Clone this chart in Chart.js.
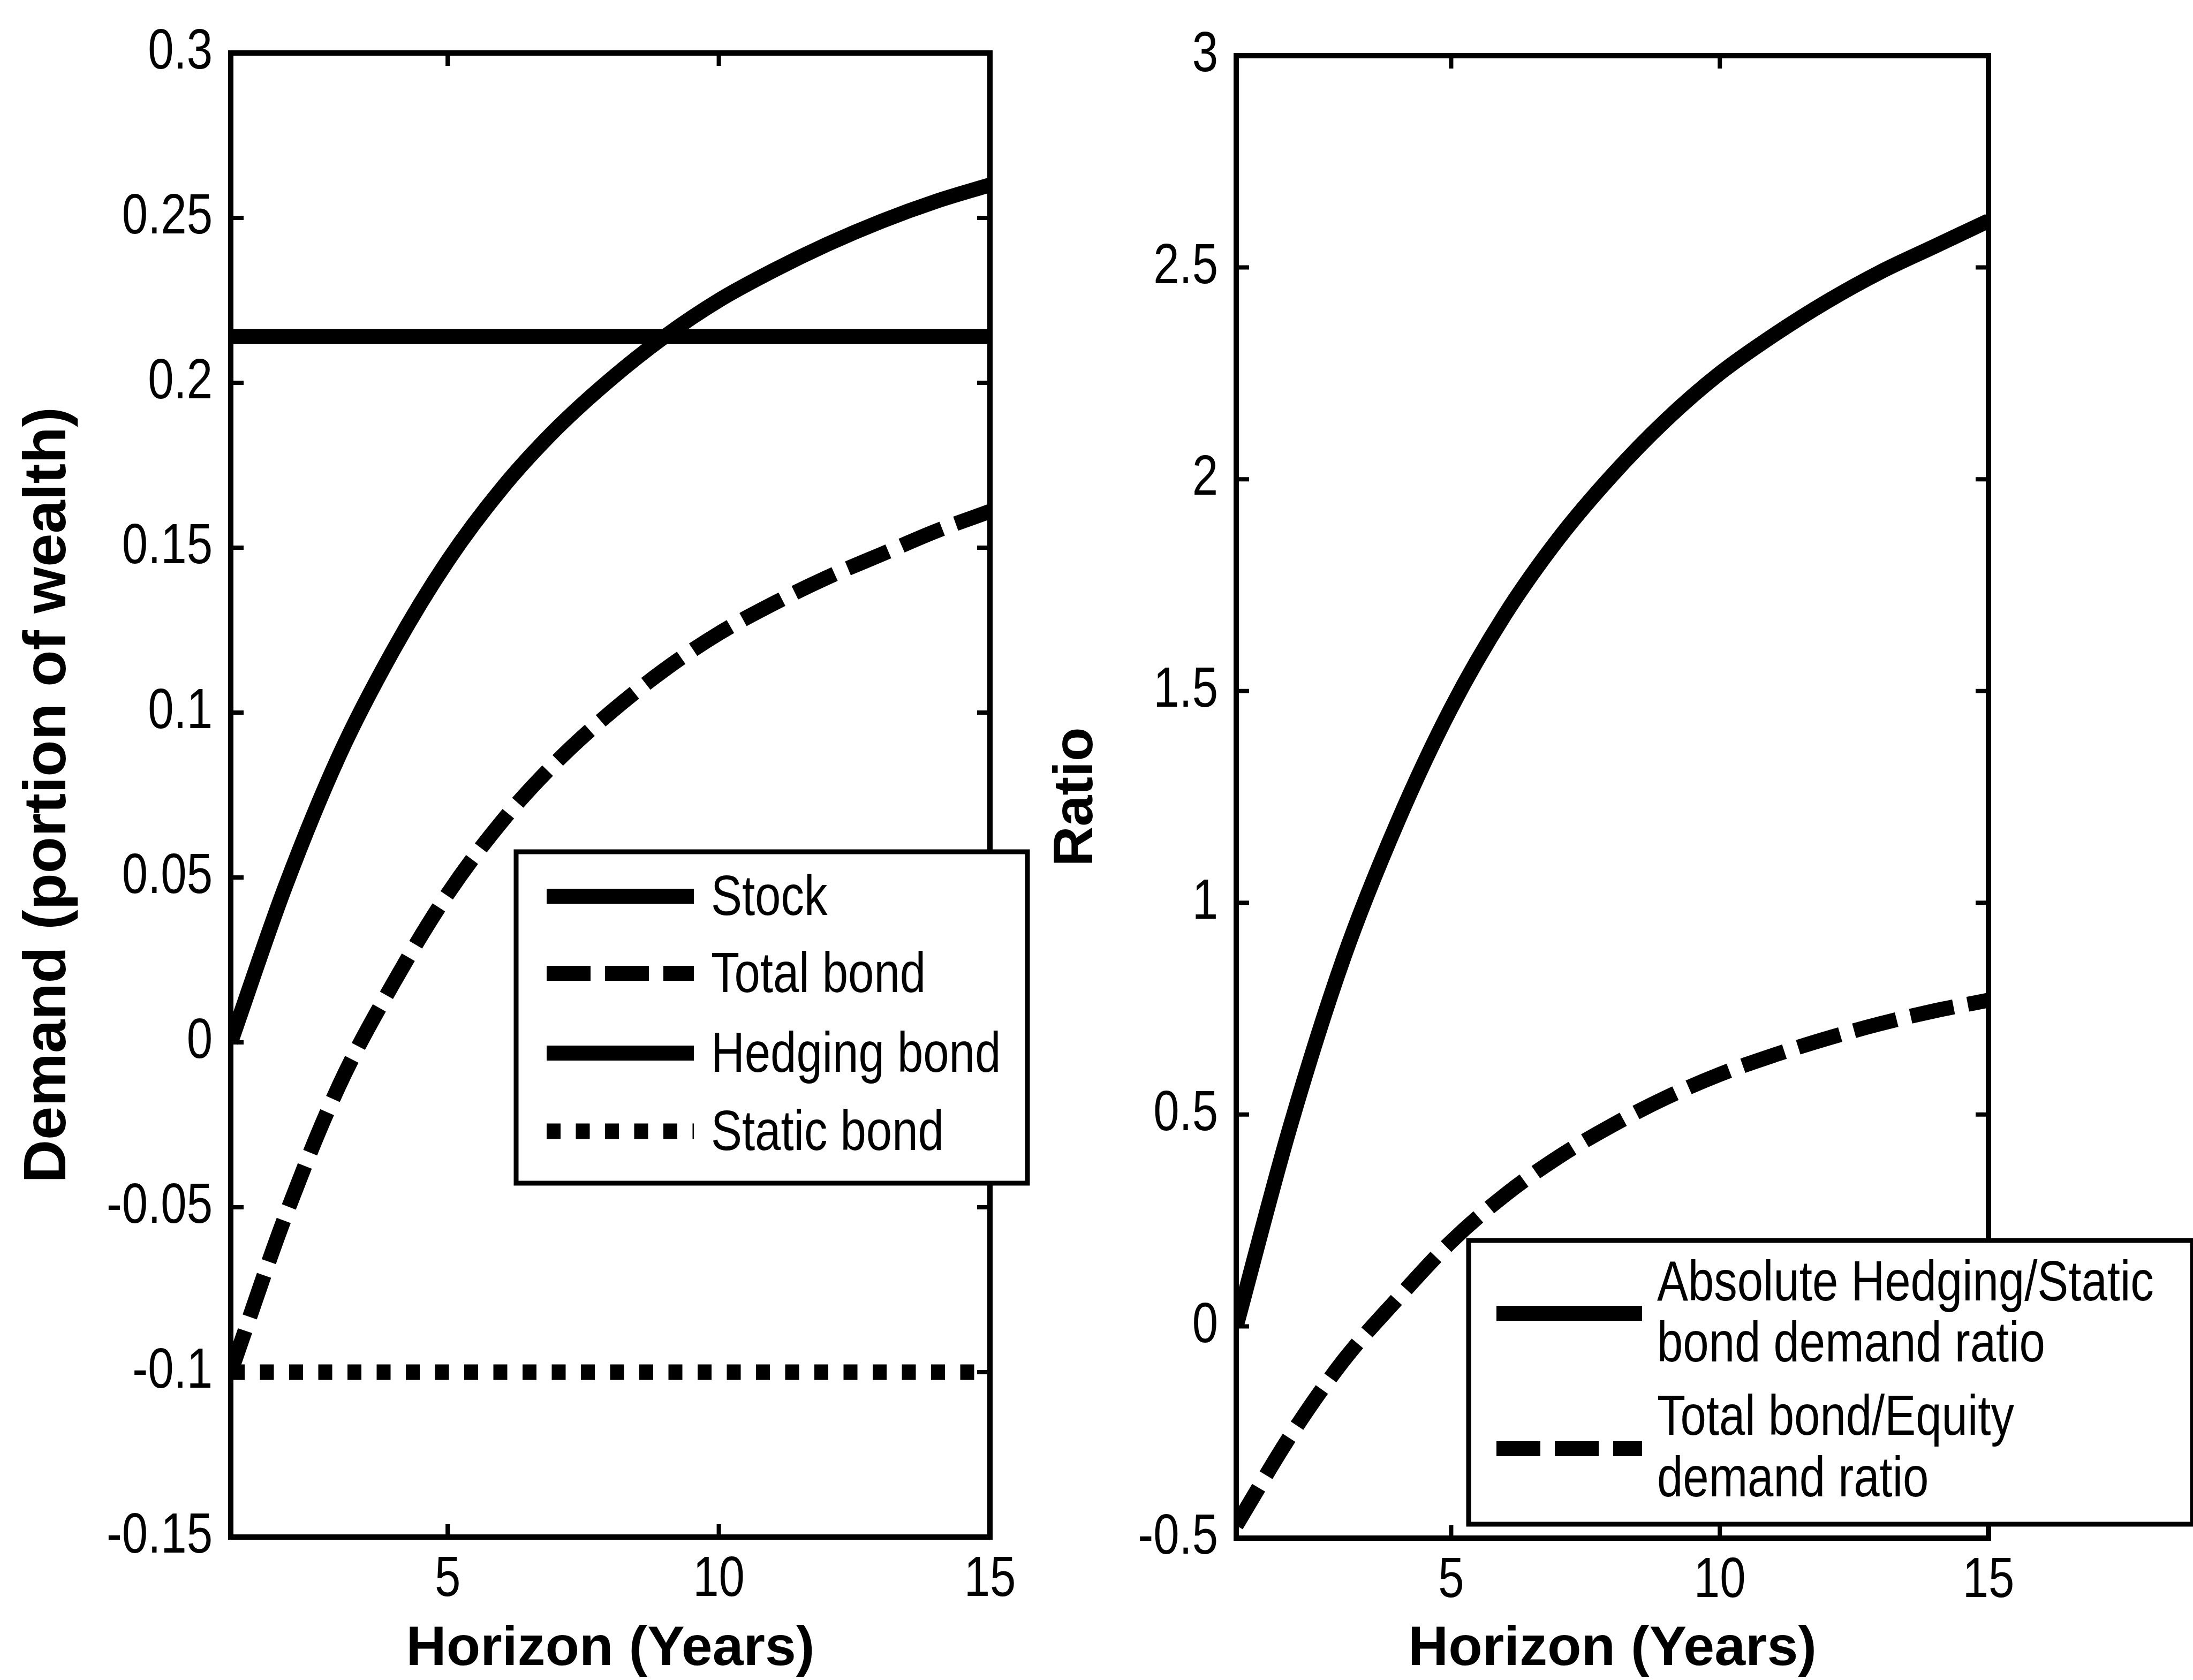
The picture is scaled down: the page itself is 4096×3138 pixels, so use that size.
<!DOCTYPE html>
<html>
<head>
<meta charset="utf-8">
<script src="https://cdn.jsdelivr.net/npm/chart.js@4/dist/chart.umd.min.js"></script>
<style>
  html, body { margin: 0; padding: 0; background: #fff; }
  #wrap { position: relative; width: 4096px; height: 3138px; overflow: hidden; background: #fff; }
  canvas { position: absolute; left: 0; top: 0; }
</style>
</head>
<body>
<div id="wrap">
  <canvas id="leftChart" width="4096" height="3138"></canvas>
  <canvas id="rightChart" width="4096" height="3138"></canvas>
</div>
<script>
// horizon in years
const horizon = [1, 2, 3, 4, 5, 6, 7, 8, 9, 10, 11, 12, 13, 14, 15];

// left panel: demand as portion of wealth
const stockDemand   = [0.214, 0.214, 0.214, 0.214, 0.214, 0.214, 0.214, 0.214, 0.214, 0.214, 0.214, 0.214, 0.214, 0.214, 0.214];
const totalBond     = [-0.1, -0.053, -0.013, 0.018, 0.045, 0.067, 0.085, 0.1, 0.113, 0.124, 0.133, 0.141, 0.148, 0.155, 0.161];
const hedgingBond   = [0, 0.047, 0.087, 0.119, 0.146, 0.168, 0.186, 0.201, 0.214, 0.225, 0.234, 0.242, 0.249, 0.255, 0.26];
const staticBond    = [-0.1, -0.1, -0.1, -0.1, -0.1, -0.1, -0.1, -0.1, -0.1, -0.1, -0.1, -0.1, -0.1, -0.1, -0.1];
const leftLabels    = ['Stock', 'Total bond', 'Hedging bond', 'Static bond'];

// right panel: ratios
const hedgeStaticRatio = [0, 0.47, 0.87, 1.19, 1.46, 1.68, 1.86, 2.01, 2.14, 2.25, 2.34, 2.42, 2.49, 2.55, 2.61];
const bondEquityRatio  = [-0.47, -0.26, -0.08, 0.065, 0.2, 0.31, 0.4, 0.475, 0.54, 0.595, 0.64, 0.68, 0.715, 0.745, 0.77];
const rightLabels = [['Absolute Hedging/Static', 'bond demand ratio'], ['Total bond/Equity', 'demand ratio']];

// ticks
const xTicks = [5, 10, 15];
const xTickLabels = ['5', '10', '15'];
const yLeftTicks = [-0.15, -0.1, -0.05, 0, 0.05, 0.1, 0.15, 0.2, 0.25, 0.3];
const yLeftTickLabels = ['-0.15', '-0.1', '-0.05', '0', '0.05', '0.1', '0.15', '0.2', '0.25', '0.3'];
const yRightTicks = [-0.5, 0, 0.5, 1, 1.5, 2, 2.5, 3];
const yRightTickLabels = ['-0.5', '0', '0.5', '1', '1.5', '2', '2.5', '3'];

const TEXT_FONT = "106px 'Liberation Sans', Arial, sans-serif";
const SQUEEZE = 0.82;   // the original uses a narrow face
const BOLD = "'Liberation Sans', Arial, sans-serif";
const SOLID = [];
const DASH = [82, 27];
const DOT = [26, 28.5];

function pts(arr) { return horizon.map((h, i) => ({ x: h, y: arr[i] })); }

function line(label, arr, dash, width) {
  return {
    label: label,
    data: pts(arr),
    borderColor: '#000',
    borderWidth: width,
    borderDash: dash,
    borderCapStyle: 'butt',
    borderJoinStyle: 'round',
    pointRadius: 0,
    fill: false,
    cubicInterpolationMode: 'monotone'
  };
}

function narrowText(ctx, txt, x, y) {
  const w = ctx.measureText(txt).width;
  ctx.fillText(txt, x, y, w * SQUEEZE);
}

// box round the plot with inward ticks on all four sides, plus the tick labels
const boxFrame = {
  id: 'boxFrame',
  afterDatasetsDraw(chart, args, o) {
    const { ctx, chartArea: a, scales: { x, y } } = chart;
    const L = 24;
    ctx.save();
    ctx.strokeStyle = '#000';
    ctx.lineWidth = 8;
    ctx.beginPath();
    x.ticks.forEach(t => {
      const px = x.getPixelForValue(t.value);
      ctx.moveTo(px, a.bottom); ctx.lineTo(px, a.bottom - L);
      ctx.moveTo(px, a.top); ctx.lineTo(px, a.top + L);
    });
    y.ticks.forEach(t => {
      const py = y.getPixelForValue(t.value);
      ctx.moveTo(a.left, py); ctx.lineTo(a.left + L, py);
      ctx.moveTo(a.right, py); ctx.lineTo(a.right - L, py);
    });
    ctx.stroke();
    ctx.lineWidth = 10;
    ctx.strokeRect(a.left, a.top, a.right - a.left, a.bottom - a.top);

    ctx.fillStyle = '#000';
    ctx.font = TEXT_FONT;
    ctx.textBaseline = 'middle';
    ctx.textAlign = 'center';
    x.ticks.forEach((t, i) => narrowText(ctx, o.xLabels[i], x.getPixelForValue(t.value), a.bottom + 81));
    ctx.textAlign = 'right';
    y.ticks.forEach((t, i) => narrowText(ctx, o.yLabels[i], a.left - 34, y.getPixelForValue(t.value)));
    ctx.restore();
  }
};

// framed legend drawn from the datasets' own styles
const boxLegend = {
  id: 'boxLegend',
  afterDraw(chart, args, o) {
    const ctx = chart.ctx;
    ctx.save();
    ctx.fillStyle = '#fff';
    ctx.fillRect(o.x, o.y, o.w, o.h);
    ctx.strokeStyle = '#000';
    ctx.lineWidth = 9;
    ctx.strokeRect(o.x, o.y, o.w, o.h);
    ctx.font = TEXT_FONT;
    ctx.fillStyle = '#000';
    ctx.textAlign = 'left';
    ctx.textBaseline = 'middle';
    chart.data.datasets.forEach((ds, i) => {
      const e = o.entries[i];
      ctx.lineWidth = ds.borderWidth;
      ctx.lineCap = 'butt';
      ctx.setLineDash(ds.borderDash);
      ctx.beginPath();
      ctx.moveTo(o.sx0, e.y);
      ctx.lineTo(o.sx1, e.y);
      ctx.stroke();
      ctx.setLineDash([]);
      e.text.forEach((t, k) => narrowText(ctx, t, o.tx, e.ty[k]));
    });
    ctx.restore();
  }
};

function makeChart(id, datasets, yTicks, yLabels, yTitle, layout, legend) {
  return new Chart(document.getElementById(id), {
    type: 'line',
    data: { datasets: datasets },
    plugins: [boxFrame, boxLegend],
    options: {
      responsive: false,
      animation: false,
      devicePixelRatio: 1,
      layout: { padding: layout.padding },
      plugins: {
        legend: { display: false },
        tooltip: { enabled: false },
        boxFrame: { xLabels: xTickLabels, yLabels: yLabels },
        boxLegend: legend
      },
      scales: {
        x: {
          type: 'linear', min: 1, max: 15,
          grid: { display: false, drawTicks: false },
          border: { display: false },
          afterBuildTicks: s => { s.ticks = xTicks.map(v => ({ value: v })); },
          afterFit: s => { s.height = layout.xHeight; },
          ticks: { display: false },
          title: {
            display: true, text: 'Horizon (Years)', color: '#000',
            font: { family: BOLD, size: 104, weight: 'bold' },
            padding: { top: 0, bottom: -6 }
          }
        },
        y: {
          type: 'linear', min: yTicks[0], max: yTicks[yTicks.length - 1],
          grid: { display: false, drawTicks: false },
          border: { display: false },
          afterBuildTicks: s => { s.ticks = yTicks.map(v => ({ value: v })); },
          afterFit: s => { s.width = layout.yWidth; },
          ticks: { display: false },
          title: {
            display: true, text: yTitle.text, color: '#000',
            font: { family: BOLD, size: yTitle.size, weight: 'bold' },
            padding: { top: yTitle.pad, bottom: 0 }
          }
        }
      }
    }
  });
}

function draw() {
  makeChart('leftChart', [
      line(leftLabels[0], stockDemand, SOLID, 28),
      line(leftLabels[1], totalBond, DASH, 28),
      line(leftLabels[2], hedgingBond, SOLID, 28),
      line(leftLabels[3], staticBond, DOT, 29)
    ], yLeftTicks, yLeftTickLabels,
    { text: 'Demand (portion of wealth)', size: 112, pad: 24 },
    { padding: { left: 0, top: 99, right: 2247, bottom: 0 }, yWidth: 431, xHeight: 267 },
    {
      x: 964, y: 1591, w: 955, h: 619, sx0: 1021, sx1: 1296, tx: 1328,
      entries: leftLabels.map((t, i) => ({ y: [1674, 1818, 1967, 2113][i], text: [t], ty: [[1680, 1824, 1973, 2119][i]] }))
    });

  makeChart('rightChart', [
      line(rightLabels[0].join(' '), hedgeStaticRatio, SOLID, 28),
      line(rightLabels[1].join(' '), bondEquityRatio, DASH, 28)
    ], yRightTicks, yRightTickLabels,
    { text: 'Ratio', size: 104, pad: 40 },
    { padding: { left: 1909, top: 104, right: 382, bottom: 0 }, yWidth: 400, xHeight: 265 },
    {
      x: 2743, y: 2317, w: 1352, h: 530, sx0: 2795, sx1: 3067, tx: 3095,
      entries: [
        { y: 2453, text: rightLabels[0], ty: [2400, 2514] },
        { y: 2706, text: rightLabels[1], ty: [2651, 2766] }
      ]
    });
}

Promise.all([
  document.fonts.load("106px 'Liberation Sans'"),
  document.fonts.load("bold 104px 'Liberation Sans'")
]).then(draw, draw);
</script>
</body>
</html>
